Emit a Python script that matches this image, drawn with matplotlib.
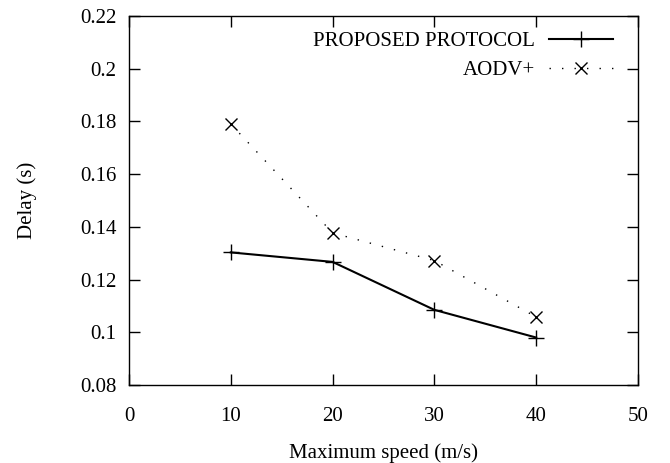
import matplotlib
matplotlib.use("Agg")
import matplotlib.pyplot as plt

plt.rcParams['font.family'] = ['Liberation Serif', 'DejaVu Serif']
plt.rcParams['font.size'] = 15

# Daten
velocidade = [10, 20, 30, 40]
atraso_proposto = [0.1303, 0.1267, 0.1085, 0.0980]
atraso_aodv = [0.1790, 0.1377, 0.1272, 0.1058]

fig = plt.figure(figsize=(6.7, 4.63), dpi=100)
ax = fig.add_axes([0.1925, 0.1685, 0.7597, 0.797])

ax.plot(velocidade, atraso_proposto, color='black', linewidth=1.5,
        marker='+', markersize=11, markeredgewidth=1.0, label='PROPOSED PROTOCOL')
ax.plot(velocidade, atraso_aodv, color='black', linewidth=1.0,
        linestyle=(0, (1, 8)), marker='x', markersize=8, markeredgewidth=1.0,
        label='AODV+')

ax.set_xlim(0, 50)
ax.set_ylim(0.08, 0.22)
ax.set_xticks([0, 10, 20, 30, 40, 50])
ax.set_yticks([0.08, 0.1, 0.12, 0.14, 0.16, 0.18, 0.2, 0.22])
ax.set_yticklabels(['0.08', '0.1', '0.12', '0.14', '0.16', '0.18', '0.2', '0.22'])
ax.tick_params(direction='in', top=True, right=True, length=8, width=1)
ax.tick_params(axis='x', pad=16)
ax.tick_params(axis='y', pad=9)
for s in ax.spines.values():
    s.set_linewidth(1)

ax.set_xlabel('Maximum speed (m/s)', labelpad=12)
ax.set_ylabel('Delay (s)', labelpad=31)

ax.legend(loc='upper right', frameon=False, markerfirst=False, handlelength=3.07,
          borderaxespad=0, labelspacing=0.45, handletextpad=0.67,
          bbox_to_anchor=(0.9276, 0.9497), bbox_transform=fig.transFigure)

fig.savefig('out.png', dpi=100)
